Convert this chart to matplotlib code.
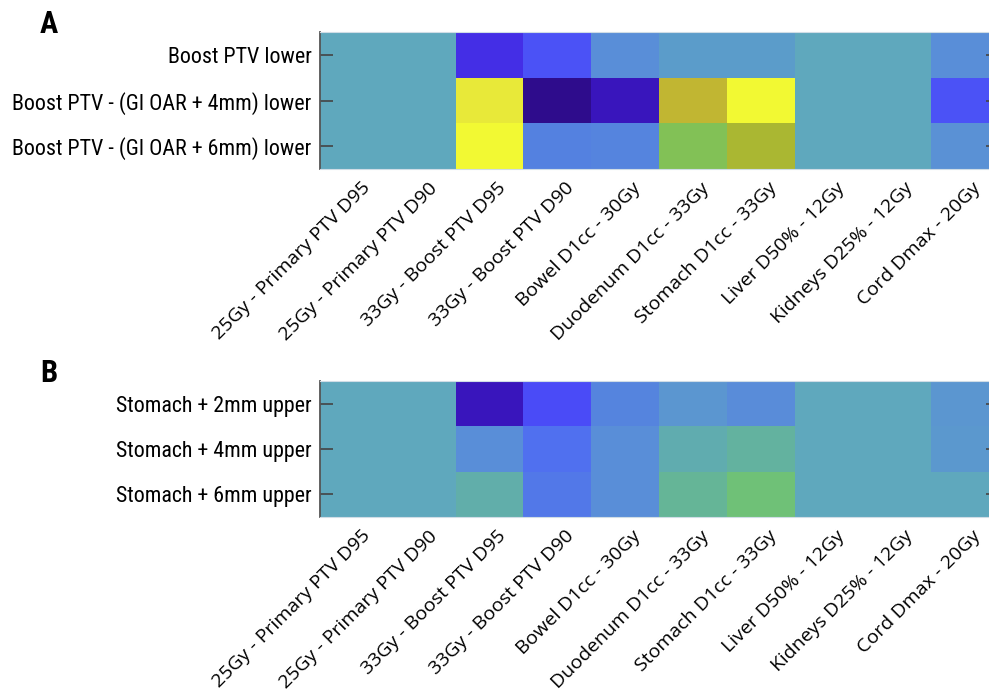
import numpy as np
import matplotlib
matplotlib.use("Agg")
import matplotlib.pyplot as plt
from matplotlib.colors import LinearSegmentedColormap
from matplotlib.transforms import ScaledTranslation

# metrics along the x axis (same for both panels)
metrics = ["25Gy - Primary PTV D95", "25Gy - Primary PTV D90",
           "33Gy - Boost PTV D95", "33Gy - Boost PTV D90",
           "Bowel D1cc - 30Gy", "Duodenum D1cc - 33Gy",
           "Stomach D1cc - 33Gy", "Liver D50% - 12Gy",
           "Kidneys D25% - 12Gy", "Cord Dmax - 20Gy"]

rows_a = ["Boost PTV lower",
          "Boost PTV - (GI OAR + 4mm) lower",
          "Boost PTV - (GI OAR + 6mm) lower"]
vals_a = [
    [0, 0, -0.80, -0.62, -0.30, -0.15, -0.15, 0, 0, -0.30],
    [0, 0, 0.90, -1.00, -0.90, 0.75, 1.00, 0, 0, -0.62],
    [0, 0, 1.00, -0.40, -0.38, 0.45, 0.65, 0, 0, -0.28],
]

rows_b = ["Stomach + 2mm upper",
          "Stomach + 4mm upper",
          "Stomach + 6mm upper"]
vals_b = [
    [0, 0, -0.90, -0.65, -0.38, -0.22, -0.32, 0, 0, -0.22],
    [0, 0, -0.30, -0.50, -0.30, 0.06, 0.14, 0, 0, -0.20],
    [0, 0, 0.08, -0.45, -0.30, 0.18, 0.35, 0, 0, 0],
]

# colour scale sampled from the figure (teal = no change)
cmap_pos = [-1.0, -0.9, -0.8, -0.65, -0.5, -0.4, -0.3, -0.15, 0.0,
            0.1, 0.2, 0.35, 0.45, 0.65, 0.75, 0.9, 1.0]
cmap_col = ["#2E0C8C", "#3A16C0", "#4530E8", "#4B4CF8", "#5070F0",
            "#5582E0", "#5A8FD8", "#5C9DCA", "#5FA8BE",
            "#62B0A6", "#66B795", "#70C277", "#82C257", "#A9B833",
            "#C0B432", "#E8E83A", "#F2F933"]
cmap = LinearSegmentedColormap.from_list(
    "div", list(zip([(p + 1) / 2 for p in cmap_pos], cmap_col)))

plt.rcParams['font.family'] = ['Roboto Condensed', 'Open Sans Condensed',
                               'Liberation Sans Narrow', 'Roboto',
                               'DejaVu Sans']

fig = plt.figure(figsize=(9.89, 7.0), dpi=100)


def draw_panel(rect, data, rows, letter, letter_top):
    ax = fig.add_axes(rect)
    ax.imshow(np.array(data), cmap=cmap, vmin=-1, vmax=1, aspect='auto',
              interpolation='nearest')
    ax.tick_params(axis='y', direction='in', length=9, width=1.2,
                   color='#444444', right=True, pad=6)
    ax.tick_params(axis='x', direction='in', length=0, pad=10)
    ax.set_yticks(range(len(rows)))
    ax.set_yticklabels(rows, fontsize=15.8)
    ax.set_xticks(range(len(metrics)))
    ax.set_xticklabels(metrics, rotation=45, ha='right', va='top',
                       rotation_mode='anchor', fontsize=14,
                       family=['Open Sans', 'DejaVu Sans'])
    # nudge the slanted labels a little up and to the right
    shift = ScaledTranslation(7 / 100, 4 / 100, fig.dpi_scale_trans)
    for lab in ax.get_xticklabels():
        lab.set_transform(lab.get_transform() + shift)
    for s in ['top', 'bottom', 'right']:
        ax.spines[s].set_color('#d0dde6')
    ax.spines['left'].set_color('#555555')
    ax.spines['left'].set_linewidth(1.3)
    fig.text(40 / 989, 1 - letter_top / 700, letter, fontsize=22,
             fontweight='bold', ha='left', va='top')
    return ax


draw_panel([320 / 989, 1 - 169 / 700, 678 / 989, 137 / 700],
           vals_a, rows_a, "A", 9)
draw_panel([320 / 989, 1 - 517 / 700, 678 / 989, 136 / 700],
           vals_b, rows_b, "B", 358)

fig.savefig("out.png", dpi=100)
